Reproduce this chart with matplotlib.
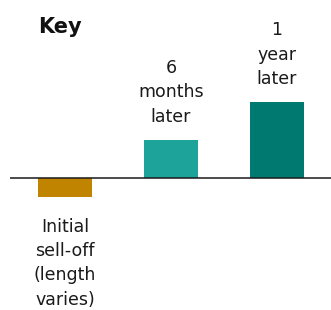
import matplotlib.pyplot as plt

# key chart: illustrative bar heights
labels = ["Initial\nsell-off\n(length\nvaries)", "6\nmonths\nlater", "1\nyear\nlater"]
values = [-1, 2, 4]
colors = ["#C08400", "#1DA39A", "#007A70"]

plt.rcParams['font.family'] = ['DejaVu Sans']

fig = plt.figure(figsize=(3.31, 3.10), dpi=100)
ax = fig.add_axes([10/331, 0, 321/331, 1])

x = list(range(len(values)))
ax.bar(x, values, width=0.51, color=colors)
ax.axhline(0, color="#1a1a1a", lw=1.1)

px = 18.9  # pixels per unit
ax.set_ylim(-132/px, 178/px)
ax.set_xlim((10-65)/106, (331-65)/106)
ax.axis("off")

for xi, v, lab in zip(x, values, labels):
    if v > 0:
        ax.annotate(lab, (xi, v), xytext=(0, 10.5), textcoords="offset points",
                    ha="center", va="bottom", fontsize=12.5, linespacing=1.45,
                    color="#1a1a1a")
    else:
        ax.annotate(lab, (xi, v), xytext=(0, -15), textcoords="offset points",
                    ha="center", va="top", fontsize=12.5, linespacing=1.45,
                    color="#1a1a1a")

fig.text(38/331, 1-33/310, "Key", fontsize=15, fontweight="bold",
         ha="left", va="baseline", color="#111111")

fig.savefig("out.png", dpi=100)
